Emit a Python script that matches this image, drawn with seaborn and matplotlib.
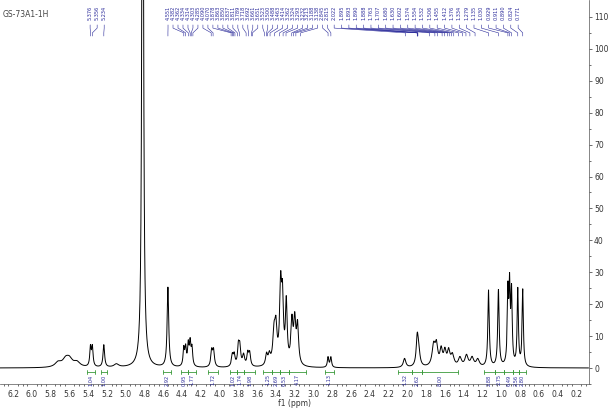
import numpy as np
import pandas as pd
import matplotlib
matplotlib.use("Agg")
import matplotlib.pyplot as plt
import seaborn as sns

# peak list (ppm, height, half width)
peak_ppm = [5.72, 5.64, 5.60, 5.52, 5.376, 5.356, 5.234, 5.10, 4.82, 4.551,
            4.382, 4.362, 4.334, 4.314, 4.295, 4.085, 4.065, 3.865, 3.845, 3.80,
            3.785, 3.745, 3.70, 3.68, 3.50, 3.47, 3.42, 3.40, 3.35, 3.33, 3.29,
            3.23, 3.20, 3.17, 2.845, 2.815, 2.03, 1.895, 1.88, 1.72, 1.69, 1.64,
            1.60, 1.56, 1.52, 1.44, 1.37, 1.31, 1.25, 1.135, 1.030, 0.929, 0.911,
            0.890, 0.824, 0.771]
peak_h = [1.5, 2.2, 2.2, 1.5, 6.0, 6.0, 7.0, 1.0, 300.0, 25.0,
          5.5, 5.5, 6.5, 7.0, 5.5, 5.0, 5.0, 3.5, 3.5, 6.0,
          5.5, 3.5, 4.0, 4.0, 3.5, 3.0, 10.0, 10.0, 24.0, 18.0, 19.0,
          13.0, 13.0, 12.0, 3.2, 3.2, 2.8, 8.5, 4.5, 6.5, 6.0, 5.0,
          4.5, 4.5, 3.5, 2.8, 3.5, 2.8, 2.3, 24.0, 24.0, 22.0, 23.0,
          22.0, 24.0, 24.0]
peak_w = [0.04, 0.04, 0.04, 0.04, 0.009, 0.009, 0.01, 0.03, 0.008, 0.01,
          0.009, 0.009, 0.009, 0.009, 0.009, 0.011, 0.011, 0.011, 0.011, 0.011,
          0.011, 0.013, 0.011, 0.011, 0.013, 0.013, 0.016, 0.013, 0.013, 0.011, 0.011,
          0.013, 0.013, 0.013, 0.009, 0.009, 0.016, 0.013, 0.016, 0.02, 0.016, 0.016,
          0.016, 0.016, 0.02, 0.02, 0.02, 0.02, 0.02, 0.009, 0.009, 0.008, 0.008,
          0.008, 0.008, 0.008]

# integrals: (start, end, value)
int_start = [5.41, 5.26, 4.60, 4.41, 4.34, 4.12, 3.89, 3.82, 3.74, 3.54, 3.44, 3.36, 3.26, 2.88,
             2.10, 1.95, 1.84, 1.18, 1.07, 0.97, 0.87, 0.81]
int_end = [5.33, 5.20, 4.52, 4.34, 4.25, 4.02, 3.82, 3.74, 3.62, 3.44, 3.36, 3.26, 3.08, 2.78,
           1.95, 1.84, 1.46, 1.07, 0.97, 0.87, 0.81, 0.74]
int_val = ["1.04", "1.00", "2.92", "0.95", "1.77", "1.72", "1.02", "1.74", "1.98", "1.25",
           "2.69", "6.53", "4.17", "1.13", "1.32", "2.62", "8.00", "2.88", "2.75", "6.49",
           "2.56", "2.80"]

label_group1 = [5.376, 5.356, 5.234]
label_group2 = [4.551, 4.382, 4.362, 4.334, 4.314, 4.303, 4.285, 4.090, 4.070, 3.878, 3.863,
                3.850, 3.837, 3.811, 3.789, 3.718, 3.692, 3.661, 3.651, 3.523, 3.500, 3.488,
                3.463, 3.414, 3.362, 3.324, 3.293, 3.232, 3.213, 3.188, 3.138, 2.845, 2.815]
label_group3 = [2.022, 1.895, 1.893, 1.890, 1.888, 1.763, 1.707, 1.680, 1.630, 1.602, 1.574,
                1.554, 1.532, 1.506, 1.455, 1.412, 1.376, 1.334, 1.279, 1.135, 1.030, 0.929,
                0.911, 0.890, 0.824, 0.771]

ppm = np.linspace(6.34, 0.07, 8000)
inten = np.zeros_like(ppm)
for c, h, w in zip(peak_ppm, peak_h, peak_w):
    inten += h * w**2 / ((ppm - c)**2 + w**2)
df = pd.DataFrame({"ppm": ppm, "intensity": inten})

sns.set_style("white")
plt.rcParams['font.family'] = ['DejaVu Sans']
fig = plt.figure(figsize=(6.08, 4.12), dpi=100)
ax = fig.add_axes([0.0, 0.068, 0.968, 0.932])
sns.lineplot(data=df, x="ppm", y="intensity", ax=ax, color="black", lw=0.7)
ax.set_xlim(6.34, 0.07)
ax.set_ylim(-4.8, 115.3)
ax.yaxis.tick_right()
ax.set_yticks(range(0, 111, 10))
ax.set_yticks(range(-5, 115, 5), minor=True)
ax.set_xticks(np.arange(6.2, 0.1, -0.2))
ax.set_xticks(np.arange(6.3, 0.05, -0.05), minor=True)
ax.set_xticklabels([f"{t:.1f}" for t in np.arange(6.2, 0.1, -0.2)])
ax.tick_params(labelsize=5.5, colors="#333333", length=2.5, width=0.5, pad=1.5)
ax.tick_params(which="minor", length=1.5, width=0.5, colors="#333333", bottom=True, right=True)
ax.tick_params(axis="x", pad=2)
ax.set_xlabel("f1 (ppm)", fontsize=5.5, labelpad=0, color="#333333")
ax.set_ylabel("")
for s in ["top", "left"]:
    ax.spines[s].set_visible(False)
for s in ["right", "bottom"]:
    ax.spines[s].set_linewidth(0.5)
    ax.spines[s].set_color("#555555")
ax.text(0.005, 0.975, "GS-73A1-1H", transform=ax.transAxes, fontsize=5.5, color="#444444", va="top")

# peak labels
def draw_labels(vals, x0, x1):
    pos = np.linspace(x0, x1, len(vals)) if len(vals) > 1 else [x0]
    for v, p in zip(vals, pos):
        ax.text(p, 113.5, f"{v:.3f}", rotation=90, fontsize=3.6, color="#2a2a9a",
                ha="center", va="top")
        ax.plot([p, p, v, v], [107.5, 106.5, 105, 104], color="#2a2a9a", lw=0.4)

draw_labels(label_group1, 5.38, 5.23)
draw_labels(label_group2, 4.55, 2.85)
draw_labels(label_group3, 2.78, 0.82)

# integrals
for a, b, v in zip(int_start, int_end, int_val):
    ax.plot([a, b], [-1.2, -1.2], color="#3a9a3a", lw=0.6)
    ax.plot([a, a], [-1.8, -0.6], color="#3a9a3a", lw=0.6)
    ax.plot([b, b], [-1.8, -0.6], color="#3a9a3a", lw=0.6)
    ax.text((a + b) / 2, -2.0, v, rotation=90, fontsize=3.6, color="#2a2a9a", ha="center", va="top")

fig.savefig("out.png", dpi=100)
